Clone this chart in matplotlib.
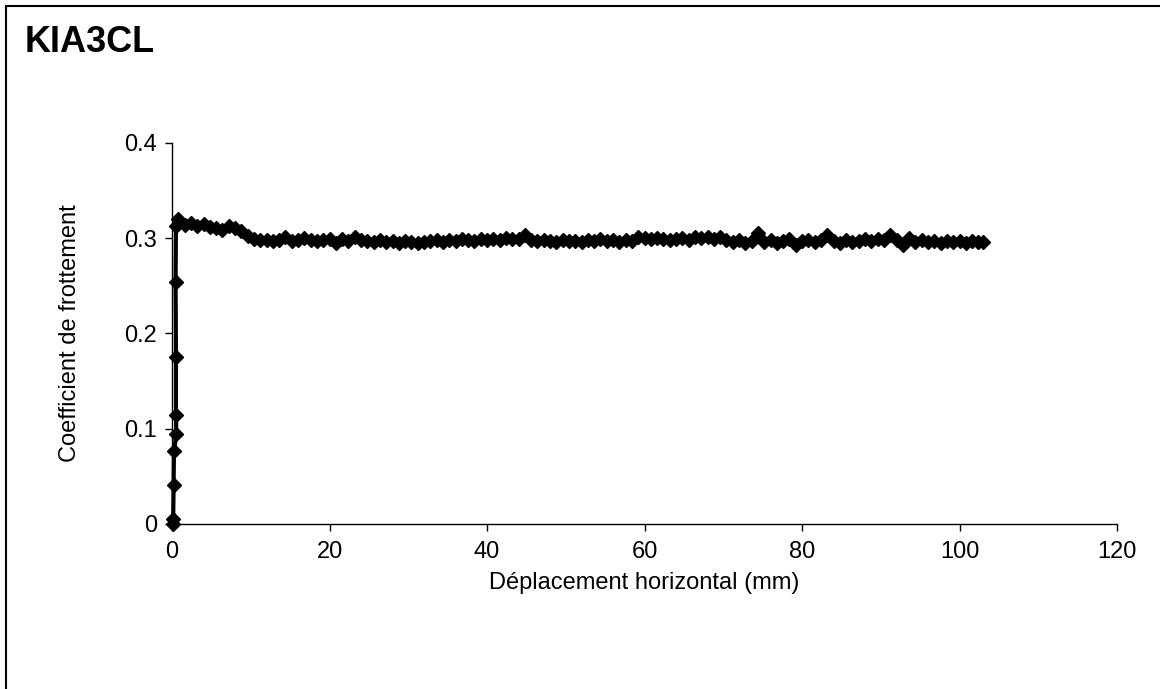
import matplotlib
matplotlib.use("Agg")
import matplotlib.pyplot as plt
import matplotlib.patches as patches
from matplotlib.ticker import FuncFormatter

plt.rcParams['font.family'] = ['Liberation Sans', 'DejaVu Sans']

# start-up part of the test (load ramp)
disp_start = [0.15, 0.15, 0.2, 0.25, 0.55, 0.5, 0.5, 0.45, 0.5]
coef_start = [0.0, 0.005, 0.041, 0.077, 0.094, 0.114, 0.175, 0.254, 0.313]

# sliding part
disp_slide = [
    0.8, 1.6, 2.4, 3.2, 4.0, 4.8, 5.6, 6.4, 7.2, 8.0,
    8.8, 9.6, 10.4, 11.2, 12.0, 12.8, 13.6, 14.4, 15.2, 16.0,
    16.8, 17.6, 18.4, 19.2, 20.0, 20.8, 21.6, 22.4, 23.2, 24.0,
    24.8, 25.6, 26.4, 27.2, 28.0, 28.8, 29.6, 30.4, 31.2, 32.0,
    32.8, 33.6, 34.4, 35.2, 36.0, 36.8, 37.6, 38.4, 39.2, 40.0,
    40.8, 41.6, 42.4, 43.2, 44.0, 44.8, 45.6, 46.4, 47.2, 48.0,
    48.8, 49.6, 50.4, 51.2, 52.0, 52.8, 53.6, 54.4, 55.2, 56.0,
    56.8, 57.6, 58.4, 59.2, 60.0, 60.8, 61.6, 62.4, 63.2, 64.0,
    64.8, 65.6, 66.4, 67.2, 68.0, 68.8, 69.6, 70.4, 71.2, 72.0,
    72.8, 73.6, 74.4, 75.2, 76.0, 76.8, 77.6, 78.4, 79.2, 80.0,
    80.8, 81.6, 82.4, 83.2, 84.0, 84.8, 85.6, 86.4, 87.2, 88.0,
    88.8, 89.6, 90.4, 91.2, 92.0, 92.8, 93.6, 94.4, 95.2, 96.0,
    96.8, 97.6, 98.4, 99.2, 100.0, 100.8, 101.6, 102.4, 103.0,
]
coef_slide = [
    0.320, 0.314, 0.316, 0.313, 0.315, 0.312, 0.311, 0.309, 0.313, 0.311,
    0.308, 0.302, 0.299, 0.298, 0.298, 0.297, 0.298, 0.301, 0.297, 0.298,
    0.300, 0.298, 0.297, 0.298, 0.299, 0.295, 0.299, 0.297, 0.301, 0.298,
    0.297, 0.296, 0.298, 0.296, 0.297, 0.295, 0.297, 0.296, 0.295, 0.296,
    0.297, 0.298, 0.296, 0.298, 0.297, 0.299, 0.298, 0.297, 0.299, 0.298,
    0.299, 0.298, 0.300, 0.299, 0.299, 0.303, 0.298, 0.297, 0.298, 0.297,
    0.296, 0.298, 0.297, 0.297, 0.296, 0.298, 0.297, 0.299, 0.297, 0.298,
    0.296, 0.298, 0.297, 0.301, 0.300, 0.299, 0.300, 0.299, 0.298, 0.299,
    0.300, 0.298, 0.301, 0.300, 0.301, 0.299, 0.301, 0.298, 0.296, 0.298,
    0.295, 0.297, 0.305, 0.296, 0.298, 0.295, 0.297, 0.299, 0.293, 0.297,
    0.298, 0.296, 0.298, 0.303, 0.297, 0.295, 0.298, 0.296, 0.297, 0.299,
    0.297, 0.299, 0.298, 0.303, 0.298, 0.293, 0.300, 0.296, 0.298, 0.296,
    0.297, 0.295, 0.297, 0.296, 0.297, 0.295, 0.297, 0.296, 0.296,
]

x_ticks = [0, 20, 40, 60, 80, 100, 120]
y_ticks = [0, 0.1, 0.2, 0.3, 0.4]

fig = plt.figure(figsize=(11.6, 6.89), dpi=100)
ax = fig.add_axes([0.1483, 0.2395, 0.8147, 0.553])

ax.plot(disp_start + disp_slide, coef_start + coef_slide, color='black', lw=3,
        marker='D', ms=7, mfc='black', mec='black', clip_on=False)

ax.set_xlim(0, 120)
ax.set_ylim(0, 0.4)
ax.set_xticks(x_ticks)
ax.set_yticks(y_ticks)
ax.yaxis.set_major_formatter(FuncFormatter(lambda v, p: f"{v:g}"))
ax.tick_params(direction='out', length=5, width=1, labelsize=17, colors='black')
ax.tick_params(axis='y', pad=6)
ax.tick_params(axis='x', pad=7)

for side in ['top', 'right']:
    ax.spines[side].set_visible(False)
for side in ['left', 'bottom']:
    ax.spines[side].set_linewidth(1)
    ax.spines[side].set_color('black')

ax.set_xlabel('Déplacement horizontal (mm)', fontsize=17, labelpad=7)
ax.set_ylabel('Coefficient de frottement', fontsize=17, labelpad=31)

fig.text(25 / 1160, 1 - 52 / 689, 'KIA3CL', fontsize=26, fontweight='bold', ha='left', va='baseline')

# outer frame
fig.patches.append(patches.Rectangle((6 / 1160, -0.01), 1.0, 1 - 6 / 689 + 0.01,
                                     transform=fig.transFigure, fill=False,
                                     edgecolor='black', lw=1.5))

fig.savefig('out.png', dpi=100)
